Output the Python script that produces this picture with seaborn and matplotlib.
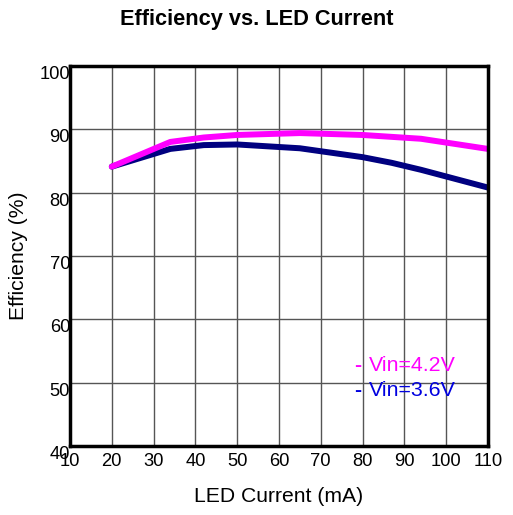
import numpy as np
import pandas as pd
import matplotlib
matplotlib.use("Agg")
import matplotlib.pyplot as plt
import seaborn as sns

# values
current_42 = [20, 34, 42, 50, 65, 80, 94, 110]
eff_42 = [84.1, 88.0, 88.7, 89.1, 89.4, 89.1, 88.5, 86.9]
current_36 = [20, 34, 42, 50, 65, 80, 87, 94, 110]
eff_36 = [84.1, 86.9, 87.5, 87.6, 87.0, 85.6, 84.7, 83.6, 80.8]

df = pd.concat([
    pd.DataFrame({"current": current_42, "eff": eff_42, "series": "Vin=4.2V"}),
    pd.DataFrame({"current": current_36, "eff": eff_36, "series": "Vin=3.6V"}),
])

sns.set_style("white")
plt.rcParams["font.family"] = ["Liberation Sans", "DejaVu Sans"]
plt.rcParams["text.color"] = "black"
plt.rcParams["axes.labelcolor"] = "black"
plt.rcParams["xtick.color"] = "black"
plt.rcParams["ytick.color"] = "black"

fig = plt.figure(figsize=(5.13, 5.15), dpi=100)
ax = fig.add_axes([0.1365, 0.134, 0.8145, 0.738])

palette = {"Vin=4.2V": "#FF00FF", "Vin=3.6V": "#000080"}
sns.lineplot(data=df, x="current", y="eff", hue="series", palette=palette,
             hue_order=["Vin=3.6V", "Vin=4.2V"], linewidth=4.3, ax=ax,
             legend=False, solid_capstyle="round", sort=False)

ax.set_xlim(10, 110)
ax.set_ylim(40, 100)
ax.set_xticks(np.arange(10, 111, 10))
ax.set_yticks(np.arange(40, 101, 10))
ax.grid(True, color="#555555", linewidth=1.0)
ax.set_axisbelow(True)
for s in ax.spines.values():
    s.set_linewidth(2.5)
    s.set_color("black")
ax.tick_params(length=0, labelsize=13.2)
ax.tick_params(axis="x", pad=5)
ax.tick_params(axis="y", pad=0)
for lab in ax.get_yticklabels():
    lab.set_verticalalignment("top")

ax.set_xlabel("LED Current (mA)", fontsize=15.2, labelpad=12)
ax.set_ylabel("Efficiency (%)", fontsize=15.2, labelpad=8)
fig.suptitle("Efficiency vs. LED Current", fontsize=15.7, fontweight="bold", y=0.982)

ax.text(0.68, 0.213, "-", color="#FF00FF", fontsize=15.4, fontweight="bold",
        transform=ax.transAxes, va="center")
ax.text(0.716, 0.213, "Vin=4.2V", color="#FF00FF", fontsize=15.4,
        transform=ax.transAxes, va="center")
ax.text(0.68, 0.147, "-", color="#0000E0", fontsize=15.4, fontweight="bold",
        transform=ax.transAxes, va="center")
ax.text(0.716, 0.147, "Vin=3.6V", color="#0000E0", fontsize=15.4,
        transform=ax.transAxes, va="center")

fig.savefig("out.png", dpi=100)
